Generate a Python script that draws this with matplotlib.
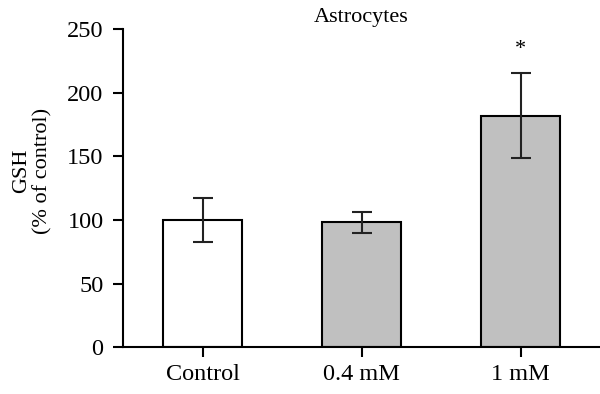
import matplotlib
matplotlib.use("Agg")
import matplotlib.pyplot as plt

# values
groups = ["Control", "0.4 mM", "1 mM"]
gsh = [100, 98, 182]
sem = [17, 8, 33.5]
bar_colors = ["white", "#c0c0c0", "#c0c0c0"]
star_y = 234

plt.rcParams["font.family"] = ["Liberation Serif", "DejaVu Serif"]

fig = plt.figure(figsize=(6.0, 3.94), dpi=100)
ax = fig.add_axes([0.205, 0.119, 0.795, 0.807])

x = list(range(len(groups)))
ax.bar(x, gsh, width=0.5, color=bar_colors, edgecolor="black", linewidth=1.5, zorder=2)
ax.errorbar(x, gsh, yerr=sem, fmt="none", ecolor="#222222", elinewidth=1.5,
            capsize=7, capthick=1.5, zorder=3)
ax.text(2, star_y, "*", ha="center", va="center", fontsize=16)

ax.set_xlim(-0.5, 2.5)
ax.set_ylim(0, 250)
ax.set_yticks([0, 50, 100, 150, 200, 250])
ax.set_xticks(x)
ax.set_xticklabels(groups)
ax.tick_params(axis="both", labelsize=17.5, width=1.5, length=7, direction="out")
ax.tick_params(axis="x", pad=5)
ax.tick_params(axis="y", pad=7)

for s in ["top", "right"]:
    ax.spines[s].set_visible(False)
ax.spines["left"].set_linewidth(1.5)
ax.spines["bottom"].set_linewidth(1.5)

ax.set_ylabel("GSH\n(% of control)", fontsize=16, linespacing=1.1)
ax.yaxis.set_label_coords(-0.148, 0.553)
ax.set_title("Astrocytes", fontsize=16, pad=5)

fig.savefig("out.png", dpi=100)
